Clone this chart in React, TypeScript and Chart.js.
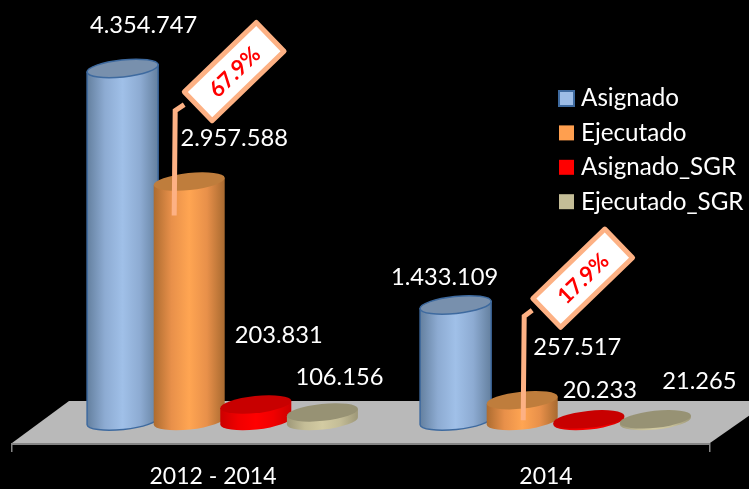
import React, { useEffect, useRef } from "react";
import { Chart, registerables } from "chart.js";

Chart.register(...registerables);

const categories = ["2012 - 2014", "2014"];
const seriesNames = ["Asignado", "Ejecutado", "Asignado_SGR", "Ejecutado_SGR"];
const asignado = [4354747, 1433109];
const ejecutado = [2957588, 257517];
const asignadoSgr = [203831, 20233];
const ejecutadoSgr = [106156, 21265];
const percentLabels = ["67.9%", "17.9%"];

const FONT = "Lato, 'Open Sans', sans-serif";
const barColors = ["#9dbde6", "#ff9f4f", "#ff0000", "#c4bd97"];
const sideStops = [
  ["#64809f", "#8dabd2", "#a0c0e8", "#8dabd2", "#64809f"],
  ["#ad6c30", "#e8904a", "#ffa552", "#e8904a", "#a86a30"],
  ["#cc0000", "#f00000", "#ff0000", "#f00000", "#cc0000"],
  ["#9e9878", "#c4bd97", "#d3cba2", "#c4bd97", "#9e9878"],
];
const topColors = ["#7890ad", "#bf7d3c", "#c80000", "#979274"];
const outlineColors = ["#3e6a9f", null, null, null];
// label offsets from the top of each cylinder [dataset][category]
const labelOffsets = [
  [[21, -43], [-11, -28]],
  [[45, -43], [55, -53]],
  [[23, -69], [11, -29]],
  [[17, -35], [44, -38]],
];
// callout placement relative to the top of the orange cylinder
const calloutOffsets = [
  { c: [45, -110], a: [-5, -77], b: [-14, -71], t: [-15, 34] },
  { c: [60.5, -122], a: [10, -90], b: [2, -84], t: [1, 20] },
];
const BAR_PCT = 0.85;
const TILT = (-6 * Math.PI) / 180;
const SEMI_MINOR = 8.5;

const fmt = (n: number) => String(n).replace(/\B(?=(\d{3})+(?!\d))/g, ".");

const cylinderPlugin = {
  id: "cylinders",
  beforeDatasetsDraw(chart: any) {
    const { ctx, chartArea } = chart;
    const base = chartArea.bottom;
    ctx.save();
    // floor
    ctx.fillStyle = "#b9b9b9";
    ctx.beginPath();
    ctx.moveTo(12, base + 22);
    ctx.lineTo(69, base - 20);
    ctx.lineTo(770, base - 20);
    ctx.lineTo(710, base + 22);
    ctx.closePath();
    ctx.fill();
    ctx.fillStyle = "#858585";
    ctx.fillRect(12, base + 22, 698, 2);
    ctx.fillRect(11, base + 22, 1.5, 9);
    ctx.fillRect(709, base + 22, 1.5, 9);
    ctx.restore();
  },
  afterDatasetsDraw(chart: any) {
    const { ctx, chartArea } = chart;
    const base = chartArea.bottom;
    const ell = (cx: number, cy: number, a: number) => {
      ctx.beginPath();
      ctx.ellipse(cx, cy, a, SEMI_MINOR, TILT, 0, Math.PI * 2);
    };
    chart.data.datasets.forEach((_: any, di: number) => {
      const meta = chart.getDatasetMeta(di);
      meta.data.forEach((el: any) => {
        const a = el.width / BAR_PCT / 2 + 2.4;
        const cx = el.x;
        const top = el.y;
        const dx = a * Math.cos(TILT);
        const g = ctx.createLinearGradient(cx - dx, 0, cx + dx, 0);
        sideStops[di].forEach((c, i) => g.addColorStop(i / 4, c));
        ctx.save();
        ctx.beginPath();
        ctx.ellipse(cx, base, a, SEMI_MINOR, TILT, Math.PI, 0, true);
        ctx.lineTo(cx + dx, top - a * Math.sin(-TILT));
        ctx.lineTo(cx - dx, top + a * Math.sin(-TILT));
        ctx.closePath();
        ctx.fillStyle = g;
        ctx.fill();
        if (outlineColors[di]) {
          ctx.strokeStyle = outlineColors[di];
          ctx.lineWidth = 1.5;
          ctx.stroke();
        }
        ell(cx, top, a);
        ctx.fillStyle = topColors[di];
        ctx.fill();
        if (outlineColors[di]) {
          ctx.strokeStyle = outlineColors[di];
          ctx.lineWidth = 1.5;
          ctx.stroke();
        }
        ctx.restore();
      });
    });

    // data labels
    ctx.save();
    ctx.fillStyle = "#ffffff";
    ctx.font = `23.7px ${FONT}`;
    ctx.textAlign = "center";
    ctx.textBaseline = "middle";
    chart.data.datasets.forEach((ds: any, di: number) => {
      chart.getDatasetMeta(di).data.forEach((el: any, i: number) => {
        const [ox, oy] = labelOffsets[di][i];
        ctx.fillText(fmt(ds.data[i]), el.x + ox, el.y + oy);
      });
    });
    ctx.restore();

    // callouts
    const orange = chart.getDatasetMeta(1).data;
    orange.forEach((el: any, i: number) => {
      const o = calloutOffsets[i];
      ctx.save();
      ctx.strokeStyle = "#fdb184";
      ctx.lineWidth = 5;
      ctx.lineJoin = "miter";
      ctx.beginPath();
      ctx.moveTo(el.x + o.a[0], el.y + o.a[1]);
      ctx.lineTo(el.x + o.b[0], el.y + o.b[1]);
      ctx.lineTo(el.x + o.t[0], el.y + o.t[1]);
      ctx.stroke();
      ctx.translate(el.x + o.c[0], el.y + o.c[1]);
      ctx.rotate((-44 * Math.PI) / 180);
      ctx.fillStyle = "#ffffff";
      ctx.lineJoin = "round";
      ctx.fillRect(-50, -20, 100, 40);
      ctx.strokeRect(-50, -20, 100, 40);
      ctx.fillStyle = "#ff0000";
      ctx.font = `bold 22px ${FONT}`;
      ctx.textAlign = "center";
      ctx.textBaseline = "middle";
      ctx.fillText(percentLabels[i], 0, 1);
      ctx.restore();
    });

    // legend
    ctx.save();
    ctx.font = `24.2px ${FONT}`;
    ctx.textAlign = "left";
    ctx.textBaseline = "middle";
    chart.data.datasets.forEach((ds: any, di: number) => {
      const y = 98.5 + di * 34.4;
      ctx.fillStyle = barColors[di];
      ctx.fillRect(559, y - 7.5, 15, 15);
      if (outlineColors[di]) {
        ctx.strokeStyle = outlineColors[di];
        ctx.lineWidth = 2;
        ctx.strokeRect(559, y - 7.5, 15, 15);
      }
      ctx.fillStyle = "#ffffff";
      ctx.fillText(ds.label, 581, y);
    });
    ctx.restore();
  },
};

export default function App() {
  const ref = useRef<HTMLCanvasElement>(null);
  useEffect(() => {
    const series = [asignado, ejecutado, asignadoSgr, ejecutadoSgr];
    const chart = new Chart(ref.current as HTMLCanvasElement, {
      type: "bar",
      data: {
        labels: categories,
        datasets: series.map((data, i) => ({
          label: seriesNames[i],
          data,
          backgroundColor: barColors[i],
          borderWidth: 0,
          barPercentage: BAR_PCT,
          categoryPercentage: 0.8,
        })),
      },
      options: {
        responsive: false,
        animation: false,
        layout: { padding: { left: 56, right: 27, top: 0, bottom: 0 } },
        plugins: { legend: { display: false }, tooltip: { enabled: false } },
        scales: {
          x: {
            afterFit: (s: any) => {
              s.height = 68;
            },
            grid: { display: false, drawTicks: false },
            border: { display: false },
            ticks: {
              color: "#ffffff",
              font: { family: FONT, size: 23 },
              padding: 42,
              labelOffset: -9.5,
              maxRotation: 0,
            },
          },
          y: { display: false, min: 0, max: 5200000 },
        },
      },
      plugins: [cylinderPlugin],
    } as any);
    return () => chart.destroy();
  }, []);
  return (
    <div style={{ position: "absolute", left: 0, top: 0, width: 749, height: 489, background: "#000", overflow: "hidden" }}>
      <canvas ref={ref} width={749} height={489} style={{ display: "block" }} />
    </div>
  );
}
